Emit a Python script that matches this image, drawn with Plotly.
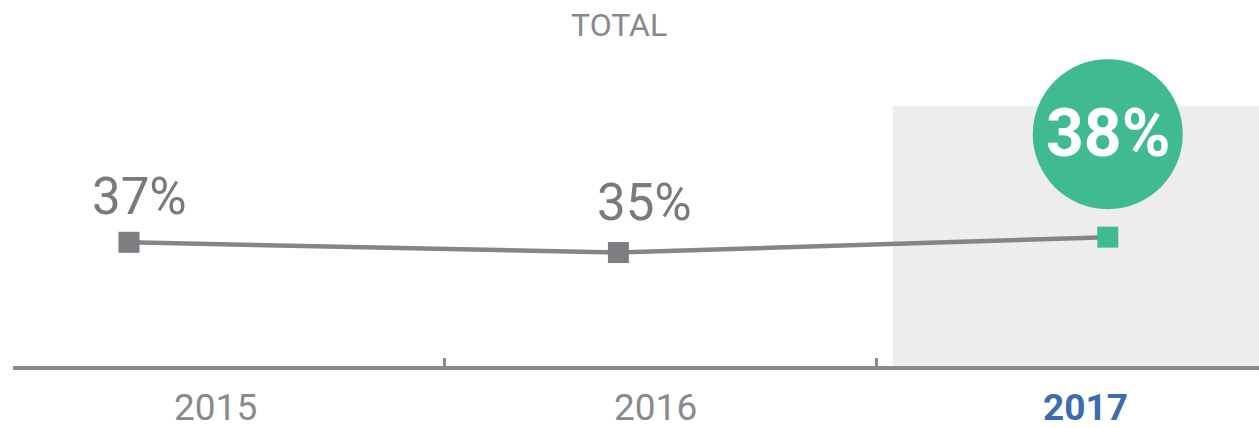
import plotly.graph_objects as go

# ---- data ----
years = [2015, 2016, 2017]
values = [37, 35, 38]
value_labels = ["37%", "35%", "38%"]
year_labels = ["2015", "2016", "2017"]
title_text = "TOTAL"

GRAY_LINE = "#858588"
GRAY_MARK = "#7e7e82"
GREEN = "#3fba93"
BLUE = "#3d6bb0"
TEXT_GRAY = "#7a7a7a"

X0, X1 = 2014.763, 2017.309

fig = go.Figure()

# highlight band for the last year
fig.add_shape(type="rect", xref="x", yref="paper", x0=2016.561, x1=X1,
              y0=0, y1=0.71, fillcolor="#ecedec", line_width=0, layer="below")

# line
fig.add_trace(go.Scatter(x=years, y=values, mode="lines",
                         line=dict(color=GRAY_LINE, width=4.5),
                         hoverinfo="skip", showlegend=False))
# markers
fig.add_trace(go.Scatter(x=years, y=values, mode="markers",
                         marker=dict(symbol="square", size=21,
                                     color=[GRAY_MARK, GRAY_MARK, GREEN],
                                     line_width=0),
                         showlegend=False))

# big green bubble around last value
fig.add_shape(type="circle", xref="x", yref="y",
              xsizemode="pixel", ysizemode="pixel",
              xanchor=years[-1], yanchor=values[-1],
              x0=-75, x1=75, y0=28, y1=178,
              fillcolor=GREEN, line_width=0, layer="above")

annotations = []
# value labels
shifts = [(11, 46), (26, 50)]
for i in range(2):
    annotations.append(dict(x=years[i], y=values[i], xref="x", yref="y",
                            text=value_labels[i], showarrow=False,
                            xshift=shifts[i][0], yshift=shifts[i][1],
                            font=dict(family="Roboto", size=51, color=TEXT_GRAY)))
annotations.append(dict(x=years[2], y=values[2], xref="x", yref="y",
                        text="<b>" + value_labels[2] + "</b>", showarrow=False,
                        xshift=1, yshift=104,
                        font=dict(family="Roboto", size=66, color="white")))

# year labels
year_shift = [87, 37, -22]
for i, yl in enumerate(year_labels):
    last = i == len(year_labels) - 1
    annotations.append(dict(x=years[i], y=0, xref="x", yref="paper",
                            text=("<b>" + yl + "</b>") if last else yl,
                            showarrow=False, xshift=year_shift[i], yshift=-41,
                            yanchor="middle",
                            font=dict(family="Roboto", size=37,
                                      color=BLUE if last else "#8a8a8a")))

# title
annotations.append(dict(x=0.4864, y=1, xref="paper", yref="paper",
                        text=title_text, showarrow=False, yanchor="middle",
                        yshift=-25,
                        font=dict(family="Roboto", size=32, color="#888888")))

fig.update_layout(
    width=1259, height=428,
    margin=dict(l=13, r=0, t=0, b=62),
    paper_bgcolor="white", plot_bgcolor="white",
    annotations=annotations,
    xaxis=dict(range=[X0, X1], showgrid=False, zeroline=False,
               showline=True, linecolor="#8a8a8a", linewidth=4,
               ticks="inside", tickvals=[2014.765, 2015.644, 2016.528],
               ticklen=8, tickwidth=3, tickcolor="#8a8a8a",
               showticklabels=False, fixedrange=True),
    yaxis=dict(range=[12.93, 84.13], visible=False, fixedrange=True),
)

fig.write_html("out.html", config={"displayModeBar": False},
               post_script="document.body.style.margin='0';")
